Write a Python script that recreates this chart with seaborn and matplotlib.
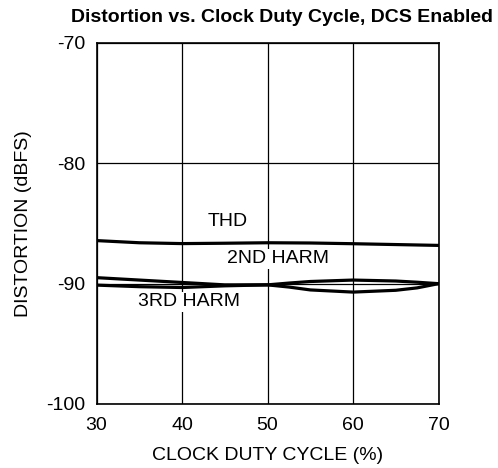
import numpy as np
import pandas as pd
import matplotlib
matplotlib.use("Agg")
import matplotlib.pyplot as plt
import seaborn as sns

# values
thd_x = [30, 35, 40, 45, 50, 55, 60, 65, 70]
thd_y = [-86.42, -86.6, -86.67, -86.64, -86.6, -86.62, -86.68, -86.75, -86.82]

harm2_x = [30, 35, 40, 45, 50, 52.5, 55, 60, 65, 67.5, 70]
harm2_y = [-89.5, -89.7, -89.9, -90.1, -90.1, -90.28, -90.52, -90.7, -90.55, -90.35, -90.0]

harm3_x = [30, 35, 40, 45, 50, 52.5, 55, 60, 65, 67.5, 70]
harm3_y = [-90.12, -90.25, -90.32, -90.18, -90.1, -89.95, -89.82, -89.7, -89.78, -89.88, -90.0]

x_ticks = [30, 40, 50, 60, 70]
y_ticks = [-100, -90, -80, -70]

sns.set_style("white")
plt.rcParams['font.family'] = ['Liberation Sans', 'DejaVu Sans']
plt.rcParams['axes.unicode_minus'] = False
plt.rcParams['text.color'] = 'black'
plt.rcParams['axes.labelcolor'] = 'black'

fig = plt.figure(figsize=(4.98, 4.68), dpi=100)
ax = fig.add_axes([96.5 / 498, 1 - 404 / 468, 342 / 498, 361 / 468])

for xs, ys in [(thd_x, thd_y), (harm2_x, harm2_y), (harm3_x, harm3_y)]:
    df = pd.DataFrame({'x': xs, 'y': ys})
    sns.lineplot(data=df, x='x', y='y', ax=ax, color='black', linewidth=2.3, zorder=3)

ax.set_xlim(30, 70)
ax.set_ylim(-100, -70)
ax.set_xticks(x_ticks)
ax.set_yticks(y_ticks)
ax.grid(True, color='black', linewidth=0.9)
ax.set_axisbelow(True)
for s in ax.spines.values():
    s.set_color('black')
    s.set_linewidth(1.2)
ax.tick_params(axis='x', length=0, labelsize=14, pad=9, colors='black')
ax.tick_params(axis='y', length=0, labelsize=14, pad=8, colors='black')

ax.set_xlabel('CLOCK DUTY CYCLE (%)', fontsize=14, labelpad=10)
ax.set_ylabel('DISTORTION (dBFS)', fontsize=14, labelpad=10)

box = dict(facecolor='white', edgecolor='none', pad=1)
ax.text(45.4, -84.8, 'THD', fontsize=14, ha='center', va='center', bbox=box, zorder=4)
ax.text(51.2, -87.95, '2ND HARM', fontsize=14, ha='center', va='center', bbox=box, zorder=4)
ax.text(40.8, -91.5, '3RD HARM', fontsize=14, ha='center', va='center', bbox=box, zorder=4)

fig.text(282 / 498, 1 - 18 / 468, 'Distortion vs. Clock Duty Cycle, DCS Enabled',
         fontsize=14, fontweight='bold', ha='center', va='center')

fig.savefig('out.png', dpi=100)
